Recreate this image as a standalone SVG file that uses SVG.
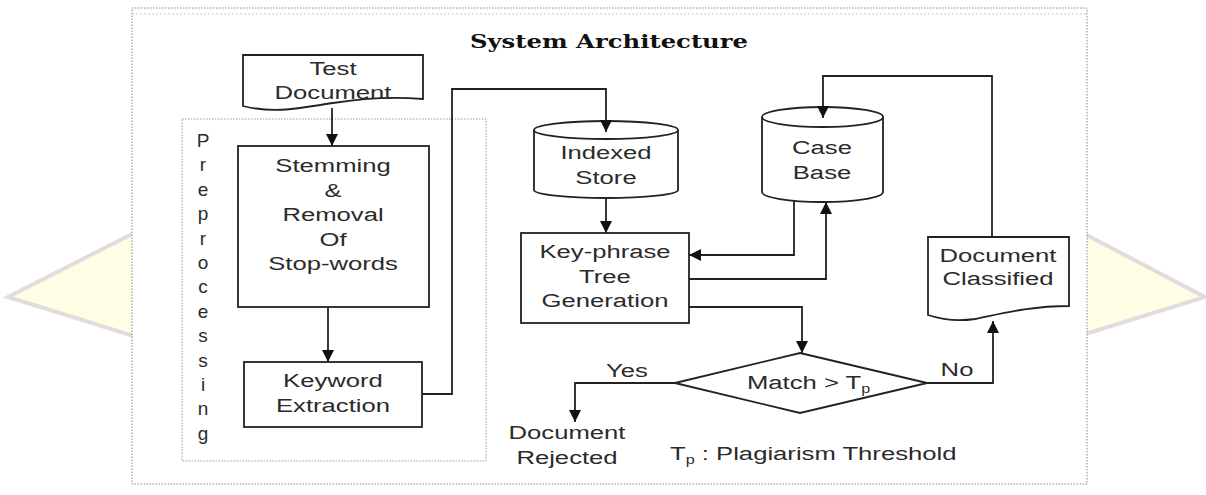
<svg xmlns="http://www.w3.org/2000/svg" width="1206" height="495" viewBox="0 0 1206 495">
<style>
.t{font-family:"Liberation Sans",Arial,sans-serif;font-size:19px;fill:#2b2b2b;text-anchor:middle}
.ts{text-anchor:start}
.sh{fill:#fff;stroke:#222;stroke-width:1.8}
.ln{fill:none;stroke:#222;stroke-width:1.8}
.title{font-family:"DejaVu Serif","Liberation Serif",serif;font-weight:bold;font-size:18px;fill:#111;text-anchor:middle}
</style>
<defs>
<marker id="ah" markerUnits="userSpaceOnUse" markerWidth="12" markerHeight="12" viewBox="0 0 10 10" refX="10" refY="5" orient="auto">
<path d="M0,0 L10,5 L0,10 z" fill="#111"/>
</marker>
</defs>
<rect width="1206" height="495" fill="#fff"/>
<g id="banner">
<polygon points="8,297 140,230 1079,231 1205,297 1079,336 140,338" fill="#fffde4" stroke="#e2dddd" stroke-width="4" stroke-linejoin="miter"/>
</g>
<g id="frame">
<rect x="132" y="8" width="955" height="476" fill="#fff" stroke="#888" stroke-width="1" stroke-dasharray="1.5 1.5"/>
<line x1="132" y1="14" x2="1087" y2="14" stroke="#ccc" stroke-width="1" stroke-dasharray="2 2"/>
<text class="title" x="0" y="0" transform="translate(609,48) scale(1.35 1)">System Architecture</text>
</g>
<g id="preprocessing">
<rect x="182" y="119" width="304" height="342" fill="none" stroke="#999" stroke-width="1" stroke-dasharray="1.5 1.5"/>
<g class="t">
<text x="203" y="147">P</text>
<text x="203" y="171.4">r</text>
<text x="203" y="195.8">e</text>
<text x="203" y="220.2">p</text>
<text x="203" y="244.6">r</text>
<text x="203" y="269">o</text>
<text x="203" y="293.4">c</text>
<text x="203" y="317.8">e</text>
<text x="203" y="342.2">s</text>
<text x="203" y="366.6">s</text>
<text x="203" y="391">i</text>
<text x="203" y="415.4">n</text>
<text x="203" y="439.8">g</text>
</g>
</g>
<g id="test-document">
<path class="sh" d="M243,55 H423 V99 C400,97 370,97 333,103 C300,108 275,114 243,106 Z"/>
<text class="t" transform="translate(333,75) scale(1.35 1)">Test</text>
<text class="t" transform="translate(333,99) scale(1.35 1)">Document</text>
</g>
<g id="stemming">
<rect class="sh" x="238" y="146" width="191" height="161"/>
<text class="t" transform="translate(333,172) scale(1.35 1)">Stemming</text>
<text class="t" transform="translate(333,196.5) scale(1.35 1)">&amp;</text>
<text class="t" transform="translate(333,221) scale(1.35 1)">Removal</text>
<text class="t" transform="translate(333,245.5) scale(1.35 1)">Of</text>
<text class="t" transform="translate(333,270) scale(1.35 1)">Stop-words</text>
</g>
<g id="keyword-extraction">
<rect class="sh" x="244" y="362" width="178" height="65"/>
<text class="t" transform="translate(333,387) scale(1.35 1)">Keyword</text>
<text class="t" transform="translate(333,412) scale(1.35 1)">Extraction</text>
</g>
<g id="indexed-store">
<path class="sh" d="M534,130 V190 A72,8 0 0 0 678,190 V130"/>
<ellipse class="sh" cx="606" cy="130" rx="72" ry="9"/>
<text class="t" transform="translate(606,159) scale(1.35 1)">Indexed</text>
<text class="t" transform="translate(606,184) scale(1.35 1)">Store</text>
</g>
<g id="keyphrase">
<rect class="sh" x="521" y="233" width="168" height="90"/>
<text class="t" transform="translate(605,258) scale(1.35 1)">Key-phrase</text>
<text class="t" transform="translate(605,283) scale(1.35 1)">Tree</text>
<text class="t" transform="translate(605,307) scale(1.35 1)">Generation</text>
</g>
<g id="case-base">
<path class="sh" d="M762,117 V192 A60.5,10 0 0 0 883,192 V117"/>
<ellipse class="sh" cx="822.5" cy="117" rx="60.5" ry="10"/>
<text class="t" transform="translate(822,154) scale(1.35 1)">Case</text>
<text class="t" transform="translate(822,179) scale(1.35 1)">Base</text>
</g>
<g id="document-classified">
<path class="sh" d="M928,237 H1069 V306 C1030,306 1000,314 975,319 C955,322 940,319 928,315 Z"/>
<text class="t" transform="translate(998,262) scale(1.35 1)">Document</text>
<text class="t" transform="translate(998,285) scale(1.35 1)">Classified</text>
</g>
<g id="match">
<polygon class="sh" points="800,353 927,383 800,413 675,383"/>
<text class="t ts" transform="translate(747,389) scale(1.35 1)">Match &gt; T<tspan font-size="12" dy="4">p</tspan></text>
</g>
<g id="document-rejected">
<text class="t" transform="translate(567,439) scale(1.35 1)">Document</text>
<text class="t" transform="translate(567,464) scale(1.35 1)">Rejected</text>
</g>
<g id="legend">
<text class="t ts" transform="translate(670,460) scale(1.35 1)">T<tspan font-size="12" dy="4">p</tspan><tspan dy="-4"> : Plagiarism Threshold</tspan></text>
</g>
<g id="connectors">
<path class="ln" d="M332,108 V146" marker-end="url(#ah)"/>
<path class="ln" d="M328,307 V362" marker-end="url(#ah)"/>
<path class="ln" d="M422,394 H452 V89 H606 V132" marker-end="url(#ah)"/>
<path class="ln" d="M606,198 V233" marker-end="url(#ah)"/>
<path class="ln" d="M794,201 V255 H689" marker-end="url(#ah)"/>
<path class="ln" d="M689,279 H826 V202" marker-end="url(#ah)"/>
<path class="ln" d="M689,307 H802 V353" marker-end="url(#ah)"/>
<path class="ln" d="M927,383 H993 V321" marker-end="url(#ah)"/>
<path class="ln" d="M992,237 V76 H823 V118" marker-end="url(#ah)"/>
<path class="ln" d="M675,383 H575 V422" marker-end="url(#ah)"/>
<text class="t" transform="translate(627,377) scale(1.35 1)">Yes</text>
<text class="t" transform="translate(957,376) scale(1.35 1)">No</text>
</g>
</svg>
